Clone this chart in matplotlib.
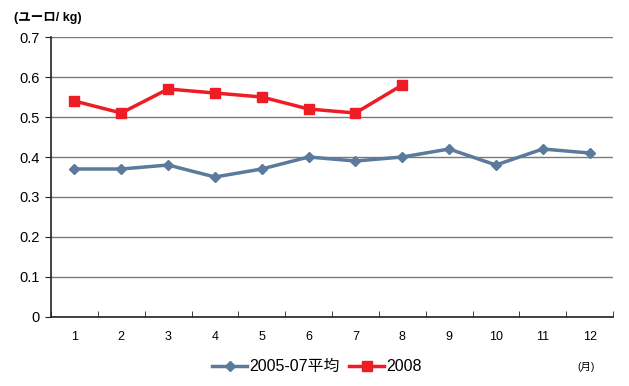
import numpy as np
import matplotlib
matplotlib.use('Agg')
import matplotlib.pyplot as plt
from matplotlib.ticker import FixedLocator

plt.rcParams['font.family'] = ['Liberation Sans', 'Noto Sans CJK JP', 'DejaVu Sans']

# data
months   = ['1', '2', '3', '4', '5', '6', '7', '8', '9', '10', '11', '12']
avg_0507 = [0.37, 0.37, 0.38, 0.35, 0.37, 0.40, 0.39, 0.40, 0.42, 0.38, 0.42, 0.41]
y2008    = [0.54, 0.51, 0.57, 0.56, 0.55, 0.52, 0.51, 0.58]
yticks   = [0, 0.1, 0.2, 0.3, 0.4, 0.5, 0.6, 0.7]
ylabels  = ['0', '0.1', '0.2', '0.3', '0.4', '0.5', '0.6', '0.7']

fig = plt.figure(figsize=(6.29, 3.86), dpi=100, facecolor='w')
ax = fig.add_axes([0.0811, 0.1788, 0.8935, 0.7253])

x = np.arange(len(months))
ax.plot(x, avg_0507, '-D', color='#5b7a9c', lw=2.5, ms=5.5, label='2005-07平均')
ax.plot(x[:len(y2008)], y2008, '-s', color='#ee1c25', lw=2.5, ms=7, label='2008')

ax.set_xlim(-0.5, len(months) - 0.5)
ax.set_ylim(0, 0.7)
ax.set_yticks(yticks)
ax.set_yticklabels(ylabels, fontsize=10.5)
ax.set_xticks(x)
ax.set_xticklabels(months, fontsize=9)
ax.tick_params(axis='x', which='major', length=0, pad=10)
ax.xaxis.set_minor_locator(FixedLocator(np.arange(-0.5, len(months), 1)))
ax.tick_params(axis='x', which='minor', direction='in', length=4, color='#222222')
ax.tick_params(axis='y', direction='out', length=4, color='#222222', pad=4)

ax.grid(axis='y', color='#7a7a7a', lw=1)
ax.set_axisbelow(True)
for s in ['top', 'right']:
    ax.spines[s].set_visible(False)
for s in ['left', 'bottom']:
    ax.spines[s].set_color('#222222')
    ax.spines[s].set_linewidth(1.2)

ax.legend(loc='upper center', bbox_to_anchor=(0.473, -0.1), ncol=2, frameon=False,
          fontsize=11.5, handlelength=2.2, handletextpad=0.1, columnspacing=0.6)

fig.text(0.022, 0.953, '(ユーロ/ kg)', fontsize=9, fontweight='bold', va='center')
fig.text(0.918, 0.05, '(月)', fontsize=7.5, va='center')

plt.savefig('out.png', dpi=100)
